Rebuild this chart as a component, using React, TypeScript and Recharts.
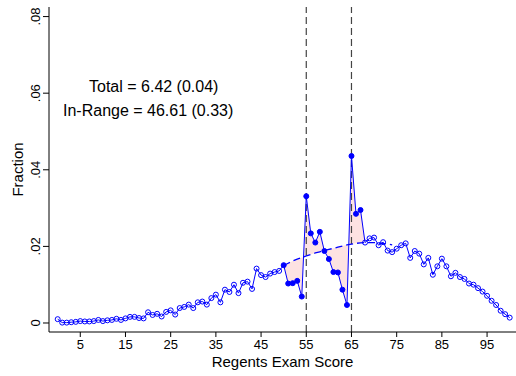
import React from "react";
import {
  ComposedChart,
  Line,
  Area,
  XAxis,
  YAxis,
  ReferenceLine,
  Label,
} from "recharts";

// score grid 0..100
const scores = Array.from({ length: 101 }, (_, i) => i);

// fraction of students at each score
const fraction = [
  0.001, 0.0001, 0.0001, 0.0002, 0.0003, 0.0005, 0.0004, 0.0004, 0.0005, 0.0008,
  0.0005, 0.0007, 0.0008, 0.0011, 0.0008, 0.0012, 0.0016, 0.0016, 0.0013, 0.0012,
  0.0028, 0.0021, 0.0024, 0.0017, 0.0029, 0.0033, 0.0022, 0.0039, 0.0042, 0.0048,
  0.0039, 0.0054, 0.0056, 0.0048, 0.0065, 0.0074, 0.0054, 0.0087, 0.0081, 0.01,
  0.0078, 0.0105, 0.0108, 0.0089, 0.0142, 0.0125, 0.012, 0.0129, 0.0133, 0.0136,
  0.0151, 0.0103, 0.0104, 0.011, 0.0069, 0.0331, 0.0234, 0.021, 0.0238, 0.0188,
  0.0167, 0.0133, 0.0132, 0.0087, 0.0047, 0.0436, 0.0285, 0.0295, 0.021, 0.0221,
  0.0223, 0.0203, 0.0211, 0.0189, 0.0185, 0.0194, 0.0203, 0.0208, 0.017, 0.0188,
  0.0181, 0.0153, 0.017, 0.0126, 0.0148, 0.0168, 0.0148, 0.0122, 0.0131, 0.012,
  0.0115, 0.0103, 0.01, 0.0091, 0.0082, 0.0071, 0.0058, 0.0047, 0.0032, 0.0023,
  0.0014,
];

// counterfactual (dashed) density, scores 50..74
const cfStart = 50;
const counterfactual = [
  0.015, 0.0156, 0.0162, 0.0167, 0.0171, 0.0175, 0.0179, 0.0183, 0.0186, 0.0189,
  0.0192, 0.0195, 0.0198, 0.0201, 0.0204, 0.0206, 0.0208, 0.0209, 0.021, 0.021,
  0.021, 0.0209, 0.0208, 0.0206, 0.0204,
];

// manipulated range (filled markers) and shaded range
const filledFrom = 50;
const filledTo = 67;
const shadeFrom = 50;
const shadeTo = 68;

const cutoffs = [55, 65];
const xTicks = [5, 15, 25, 35, 45, 55, 65, 75, 85, 95];
const yTicks = [0, 0.02, 0.04, 0.06, 0.08];
const notes = ["Total = 6.42 (0.04)", "In-Range = 46.61 (0.33)"];

const BLUE = "#0000ff";
const FONT = "'Liberation Sans', Arial, Helvetica, sans-serif";

const cfAt = (s: number) =>
  s >= cfStart && s < cfStart + counterfactual.length
    ? counterfactual[s - cfStart]
    : undefined;

type Row = { x: number; y?: number; cf?: number; shade?: [number, number] };

const rows: Row[] = [];
scores.forEach((s) => {
  const y = fraction[s];
  const cf = cfAt(s);
  const row: Row = { x: s, y, cf };
  if (s >= shadeFrom && s <= shadeTo && cf !== undefined) {
    row.shade = [Math.min(y, cf), Math.max(y, cf)];
  }
  rows.push(row);
  // add crossing point between s and s+1 so the shading meets at the crossing
  if (s >= shadeFrom && s < shadeTo) {
    const c1 = cfAt(s + 1);
    if (cf !== undefined && c1 !== undefined) {
      const d0 = y - cf;
      const d1 = fraction[s + 1] - c1;
      if (d0 * d1 < 0) {
        const t = d0 / (d0 - d1);
        const v = cf + t * (c1 - cf);
        rows.push({ x: s + t, shade: [v, v] });
      }
    }
  }
});

const YTick = (props: any) => {
  const { x, y, payload } = props;
  const v = payload.value;
  const txt = v === 0 ? "0" : v.toFixed(2).replace(/^0/, "");
  return (
    <text
      x={x}
      y={y}
      transform={`rotate(-90, ${x}, ${y})`}
      textAnchor="middle"
      fontSize={13}
      fontFamily={FONT}
      fill="#000"
    >
      {txt}
    </text>
  );
};

const Dot = (props: any) => {
  const { cx, cy, payload, index } = props;
  if (payload == null || payload.y == null || cy == null) return <g key={`d${index}`} />;
  const filled = payload.x >= filledFrom && payload.x <= filledTo;
  return (
    <circle
      key={`d${index}`}
      cx={cx}
      cy={cy}
      r={2.5}
      fill={filled ? BLUE : "none"}
      stroke={BLUE}
      strokeWidth={1}
    />
  );
};

export default function App() {
  return (
    <div style={{ position: "absolute", left: 0, top: 0, width: 516, height: 376, background: "#fff" }}>
      <ComposedChart
        width={516}
        height={376}
        data={rows}
        margin={{ top: 7, right: 0, bottom: 0, left: 0 }}
      >
        <XAxis
          type="number"
          dataKey="x"
          domain={[-1.92, 101.4]}
          allowDataOverflow
          ticks={xTicks}
          height={44}
          tickSize={5}
          tickMargin={3}
          stroke="#000"
          tick={{ fontSize: 13, fontFamily: FONT, fill: "#000" }}
        >
          <Label
            content={(p: any) => {
              const vb = p.viewBox || {};
              return (
                <text
                  x={vb.x + vb.width / 2}
                  y={367}
                  textAnchor="middle"
                  fontSize={15}
                  fontFamily={FONT}
                  fill="#000"
                >
                  Regents Exam Score
                </text>
              );
            }}
          />
        </XAxis>
        <YAxis
          type="number"
          domain={[-0.00235, 0.0825]}
          allowDataOverflow
          ticks={yTicks}
          width={49}
          tickSize={6}
          tickMargin={3}
          stroke="#000"
          tick={<YTick />}
        >
          <Label
            content={() => (
              <g fontFamily={FONT} fill="#000">
                <text
                  x={23}
                  y={169.5}
                  transform="rotate(-90, 23, 169.5)"
                  textAnchor="middle"
                  fontSize={15}
                >
                  Fraction
                </text>
                <text x={89} y={92} fontSize={16}>
                  {notes[0]}
                </text>
                <text x={63} y={116} fontSize={16}>
                  {notes[1]}
                </text>
              </g>
            )}
          />
        </YAxis>
        <Area
          dataKey="shade"
          stroke="none"
          fill="#fde2e2"
          fillOpacity={1}
          isAnimationActive={false}
          dot={false}
          activeDot={false}
        />
        {cutoffs.map((c) => (
          <ReferenceLine
            key={c}
            x={c}
            stroke="#444"
            strokeWidth={1.2}
            strokeDasharray="7 4"
          />
        ))}
        <Line
          dataKey="cf"
          stroke={BLUE}
          strokeWidth={1.3}
          strokeDasharray="7 4"
          dot={false}
          activeDot={false}
          connectNulls
          isAnimationActive={false}
        />
        <Line
          dataKey="y"
          stroke={BLUE}
          strokeWidth={1}
          dot={Dot}
          activeDot={false}
          connectNulls
          isAnimationActive={false}
        />
      </ComposedChart>
    </div>
  );
}
